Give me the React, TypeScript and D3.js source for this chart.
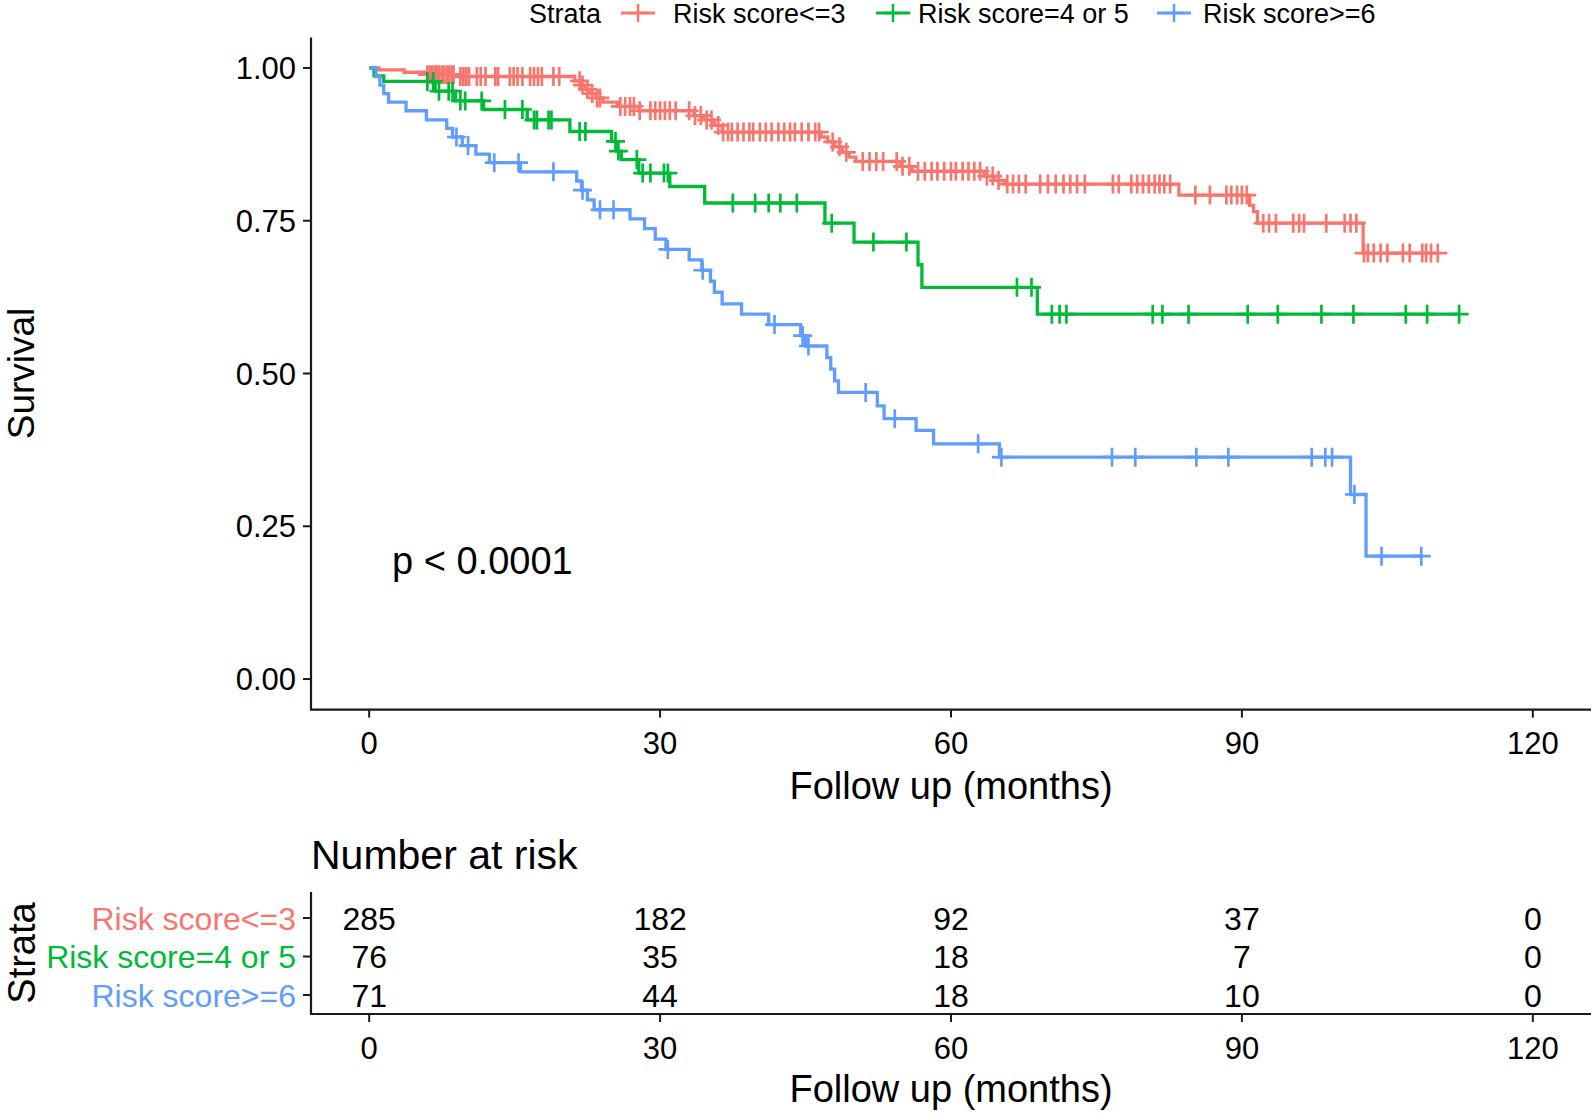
import React from "react";
import * as d3 from "d3";

const strata = ["Risk score<=3", "Risk score=4 or 5", "Risk score>=6"];
const colors = ["#F8766D", "#00BA38", "#619CFF"];

// Risk score<=3 : event times and survival after each event
const redTimes = [1.0, 3.6, 6.0, 9.0, 21.2, 21.8, 22.3, 22.8, 23.4, 24.1, 25.6, 27.8, 33.5, 34.5, 35.6, 36.4, 46.6, 47.3, 48.0, 48.8, 49.5, 50.2, 54.8, 56.0, 63.4, 64.5, 65.6, 83.5, 90.8, 91.2, 91.6, 102.5];
const redSurv = [0.997, 0.993, 0.989, 0.986, 0.979, 0.972, 0.965, 0.958, 0.951, 0.944, 0.937, 0.93, 0.922, 0.915, 0.906, 0.895, 0.887, 0.879, 0.871, 0.862, 0.854, 0.847, 0.839, 0.831, 0.823, 0.816, 0.81, 0.792, 0.775, 0.765, 0.746, 0.697];
const redCensor = [6.0, 6.3, 6.5, 6.8, 7.0, 7.2, 7.5, 7.7, 8.0, 8.2, 8.5, 8.7, 9.4, 9.7, 10.0, 10.3, 11.1, 11.5, 12.0, 13.0, 13.3, 14.5, 14.9, 15.3, 15.8, 16.6, 17.0, 17.4, 17.8, 19.0, 19.6, 21.7, 22.0, 22.5, 23.0, 23.5, 23.8, 25.9, 26.4, 26.9, 27.3, 27.9, 29.0, 29.5, 30.0, 30.5, 31.0, 31.6, 33.0, 33.6, 34.2, 34.8, 35.3, 36.0, 36.5, 37.0, 37.4, 38.0, 38.6, 39.2, 39.6, 40.3, 40.9, 41.5, 42.2, 42.8, 43.4, 43.9, 44.6, 45.3, 46.0, 46.4, 47.8, 48.5, 49.2, 50.9, 51.6, 52.3, 53.0, 54.4, 55.0, 55.7, 56.6, 57.3, 58.0, 58.6, 59.3, 60.0, 60.5, 61.2, 61.8, 62.4, 63.0, 63.7, 64.3, 64.9, 65.8, 66.4, 67.0, 67.7, 69.2, 70.0, 70.8, 71.6, 72.3, 73.0, 73.8, 76.7, 77.3, 78.6, 79.2, 79.8, 80.4, 81.0, 81.5, 82.0, 82.6, 85.2, 86.7, 88.4, 88.9, 89.5, 90.0, 90.5, 92.2, 92.8, 93.5, 95.3, 95.9, 96.4, 98.7, 100.6, 101.2, 101.8, 102.6, 103.0, 103.6, 104.3, 105.0, 106.6, 107.3, 108.6, 109.0, 109.5, 110.2];

// Risk score=4 or 5
const greenTimes = [0.5, 1.5, 6.8, 8.9, 11.8, 16.3, 20.7, 25.0, 25.5, 26.0, 27.8, 31.0, 34.6, 47.0, 50.0, 56.6, 57.0, 68.9];
const greenSurv = [0.987, 0.978, 0.962, 0.946, 0.932, 0.915, 0.896, 0.88, 0.864, 0.85, 0.828, 0.806, 0.779, 0.746, 0.715, 0.678, 0.641, 0.597];
const greenCensor = [6.0, 6.6, 7.2, 8.2, 8.6, 9.4, 9.9, 11.6, 14.0, 15.8, 17.0, 17.3, 18.5, 18.8, 21.7, 22.3, 25.4, 25.7, 27.6, 28.2, 29.0, 30.4, 30.8, 37.5, 39.8, 41.2, 42.4, 44.1, 47.7, 52.0, 55.4, 66.8, 68.3, 70.4, 71.2, 71.9, 80.8, 81.8, 84.5, 90.6, 93.7, 98.2, 101.5, 106.9, 109.1, 112.4];

// Risk score>=6
const blueTimes = [0.7, 1.1, 1.5, 2.0, 3.8, 5.9, 8.0, 8.6, 9.6, 11.0, 12.4, 15.6, 21.4, 21.9, 22.5, 23.2, 26.9, 28.4, 29.5, 30.6, 33.0, 34.3, 35.2, 35.6, 36.4, 38.4, 41.2, 44.5, 45.0, 47.2, 47.6, 48.0, 48.4, 52.4, 53.1, 56.4, 58.2, 65.0, 101.2, 102.8];
const blueSurv = [0.986, 0.972, 0.958, 0.944, 0.93, 0.915, 0.901, 0.887, 0.873, 0.859, 0.845, 0.83, 0.815, 0.8, 0.784, 0.768, 0.753, 0.737, 0.72, 0.703, 0.686, 0.669, 0.651, 0.633, 0.614, 0.597, 0.58, 0.562, 0.545, 0.526, 0.507, 0.488, 0.469, 0.447, 0.426, 0.407, 0.385, 0.363, 0.302, 0.201];
const blueCensor = [9.0, 10.2, 12.9, 15.4, 19.0, 22.0, 23.8, 25.2, 30.8, 34.4, 41.8, 44.7, 45.3, 51.2, 54.2, 62.8, 65.2, 76.6, 79.0, 85.3, 88.6, 97.2, 98.6, 99.3, 101.6, 104.4, 108.5];

const xTicks = [0, 30, 60, 90, 120];
const yTicks = [0, 0.25, 0.5, 0.75, 1];
const yTickLabels = ["0.00", "0.25", "0.50", "0.75", "1.00"];
const riskTimes = [0, 30, 60, 90, 120];
const riskRed = [285, 182, 92, 37, 0];
const riskGreen = [76, 35, 18, 7, 0];
const riskBlue = [71, 44, 18, 10, 0];

const FONT = "'Liberation Sans', Arial, Helvetica, sans-serif";

type Series = { times: number[]; surv: number[]; censor: number[]; color: string };

const series: Series[] = [
  { times: redTimes, surv: redSurv, censor: redCensor, color: colors[0] },
  { times: greenTimes, surv: greenSurv, censor: greenCensor, color: colors[1] },
  { times: blueTimes, surv: blueSurv, censor: blueCensor, color: colors[2] },
];
const riskRows = [riskRed, riskGreen, riskBlue];

function survAt(s: Series, t: number) {
  let v = 1;
  for (let i = 0; i < s.times.length; i++) {
    if (s.times[i] <= t) v = s.surv[i];
  }
  return v;
}

export default function App() {
  const x = d3.scaleLinear().domain([-6, 126]).range([311, 1591]);
  const y = d3.scaleLinear().domain([-0.05, 1.05]).range([709.6, 37.4]);
  const rowY = d3.scalePoint<string>().domain(strata).range([918, 995]);

  const line = d3
    .line<[number, number]>()
    .x((d) => x(d[0]))
    .y((d) => y(d[1]))
    .curve(d3.curveStepAfter);

  const plus = (cx: number, cy: number, h = 9) =>
    `M${cx - h},${cy}H${cx + h}M${cx},${cy - h}V${cy + h}`;

  const axisColor = "#1a1a1a";

  const legendItems = [
    { key: 638, text: 673 },
    { key: 893, text: 918 },
    { key: 1174, text: 1203 },
  ];

  return (
    <svg
      width={1594}
      height={1114}
      style={{ position: "absolute", left: 0, top: 0, background: "#fff" }}
      fontFamily={FONT}
    >
      <rect x={0} y={0} width={1594} height={1114} fill="#fff" />

      {/* Legend */}
      <text x={529} y={23} fontSize={27} fill="#000">Strata</text>
      {legendItems.map((li, i) => (
        <g key={i}>
          <line x1={li.key - 17} x2={li.key + 17} y1={13} y2={13} stroke={colors[i]} strokeWidth={3} />
          <path d={plus(li.key, 13, 9)} stroke={colors[i]} strokeWidth={2.5} fill="none" />
          <text x={li.text} y={23} fontSize={27} fill="#000">{strata[i]}</text>
        </g>
      ))}

      {/* Curves */}
      {series.map((s, i) => {
        const endT = s.censor[s.censor.length - 1];
        const pts: [number, number][] = [[0, 1]];
        s.times.forEach((t, k) => pts.push([t, s.surv[k]]));
        pts.push([endT, s.surv[s.surv.length - 1]]);
        return (
          <g key={i}>
            <path d={line(pts) || ""} fill="none" stroke={s.color} strokeWidth={3.3} />
            <path
              d={s.censor.map((t) => plus(x(t), y(survAt(s, t)), 9.5)).join("")}
              stroke={s.color}
              strokeWidth={2.7}
              fill="none"
            />
          </g>
        );
      })}

      {/* Main axes */}
      <line x1={311} x2={311} y1={37.4} y2={709.6} stroke={axisColor} strokeWidth={2.2} />
      <line x1={310} x2={1591} y1={709.6} y2={709.6} stroke={axisColor} strokeWidth={2.2} />
      {yTicks.map((v, i) => (
        <g key={i}>
          <line x1={303} x2={311} y1={y(v)} y2={y(v)} stroke={axisColor} strokeWidth={2} />
          <text x={296} y={y(v)} dy="0.36em" textAnchor="end" fontSize={31} fill="#000">
            {yTickLabels[i]}
          </text>
        </g>
      ))}
      {xTicks.map((v, i) => (
        <g key={i}>
          <line x1={x(v)} x2={x(v)} y1={709.6} y2={717.6} stroke={axisColor} strokeWidth={2} />
          <text x={x(v)} y={754} textAnchor="middle" fontSize={31} fill="#000">{v}</text>
        </g>
      ))}
      <text x={x(60)} y={799} textAnchor="middle" fontSize={38} fill="#000">Follow up (months)</text>
      <text transform={`translate(34,${(37.4 + 709.6) / 2}) rotate(-90)`} textAnchor="middle" fontSize={37} fill="#000">
        Survival
      </text>
      <text x={392} y={574} fontSize={38} fill="#000">p &lt; 0.0001</text>

      {/* Risk table */}
      <text x={311} y={869} fontSize={41} fill="#000">Number at risk</text>
      <line x1={311} x2={311} y1={892} y2={1014} stroke={axisColor} strokeWidth={2.2} />
      <line x1={310} x2={1591} y1={1014} y2={1014} stroke={axisColor} strokeWidth={2.2} />
      {strata.map((st, i) => (
        <g key={i}>
          <line x1={303} x2={311} y1={rowY(st)!} y2={rowY(st)!} stroke={axisColor} strokeWidth={2} />
          <text x={296} y={rowY(st)!} dy="0.36em" textAnchor="end" fontSize={32} fill={colors[i]}>
            {st}
          </text>
          {riskTimes.map((t, k) => (
            <text key={k} x={x(t)} y={rowY(st)!} dy="0.36em" textAnchor="middle" fontSize={32} fill="#000">
              {riskRows[i][k]}
            </text>
          ))}
        </g>
      ))}
      {xTicks.map((v, i) => (
        <g key={i}>
          <line x1={x(v)} x2={x(v)} y1={1014} y2={1022} stroke={axisColor} strokeWidth={2} />
          <text x={x(v)} y={1059} textAnchor="middle" fontSize={31} fill="#000">{v}</text>
        </g>
      ))}
      <text x={x(60)} y={1102} textAnchor="middle" fontSize={38} fill="#000">Follow up (months)</text>
      <text transform={`translate(35,${(892 + 1014) / 2}) rotate(-90)`} textAnchor="middle" fontSize={38} fill="#000">
        Strata
      </text>
    </svg>
  );
}
